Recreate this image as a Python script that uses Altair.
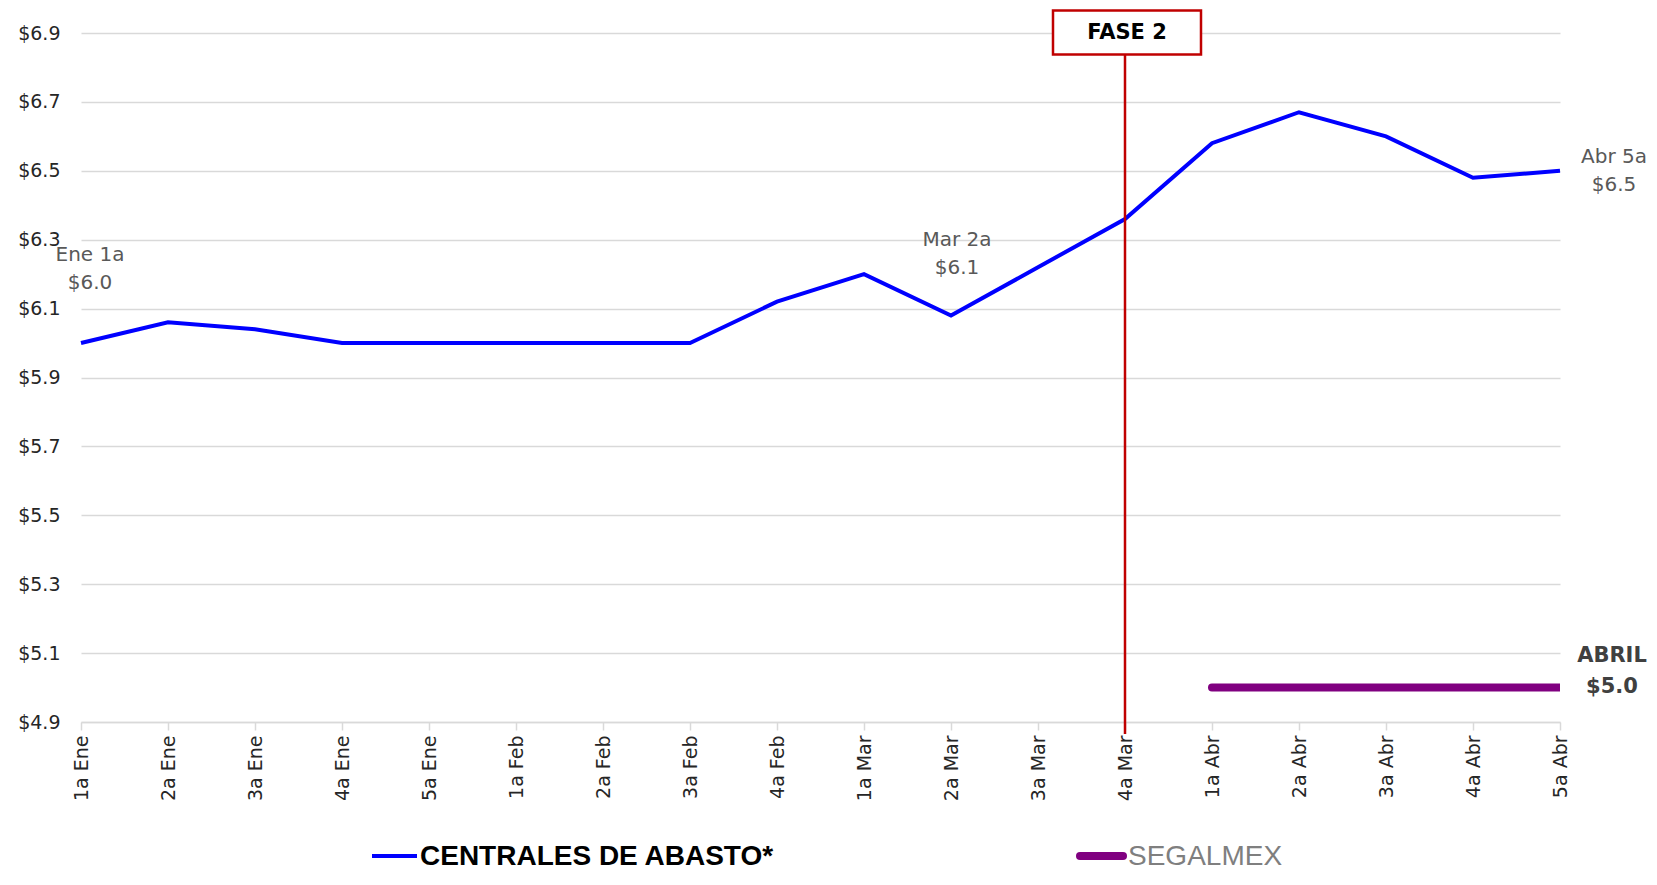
import altair as alt
import pandas as pd

# ---------------- data ----------------
weeks = ["1a Ene", "2a Ene", "3a Ene", "4a Ene", "5a Ene", "1a Feb", "2a Feb", "3a Feb",
         "4a Feb", "1a Mar", "2a Mar", "3a Mar", "4a Mar", "1a Abr", "2a Abr", "3a Abr",
         "4a Abr", "5a Abr"]
centrales = [6.00, 6.06, 6.04, 6.00, 6.00, 6.00, 6.00, 6.00,
             6.12, 6.20, 6.08, 6.22, 6.36, 6.58, 6.67, 6.60, 6.48, 6.50]
segalmex_weeks = ["1a Abr", "2a Abr", "3a Abr", "4a Abr", "5a Abr"]
segalmex = [5.0, 5.0, 5.0, 5.0, 5.0]
y_ticks = [4.9, 5.1, 5.3, 5.5, 5.7, 5.9, 6.1, 6.3, 6.5, 6.7, 6.9]
fase_week = "4a Mar"

df_c = pd.DataFrame({"cat": weeks, "value": centrales})
df_s = pd.DataFrame({"cat": segalmex_weeks, "value": segalmex})
df_f = pd.DataFrame({"cat": [fase_week], "label": ["FASE 2"]})

FONT = "DejaVu Sans"
LEG_FONT = "Liberation Sans"

xscale = alt.Scale(type="point", domain=weeks, padding=0)
yscale = alt.Scale(domain=[4.9, 6.9], nice=False, zero=False)
xaxis = alt.Axis(title=None, labelAngle=-90, labelFont=FONT, labelFontSize=19,
                 labelColor="#262626", domainColor="#d9d9d9", domainWidth=1.5,
                 tickColor="#d9d9d9", tickWidth=1.5, tickSize=8, labelPadding=5,
                 grid=False)
yaxis = alt.Axis(title=None, values=y_ticks,
                 labelExpr="'$' + format(datum.value, '.1f')",
                 labelFont=FONT, labelFontSize=19, labelColor="#262626",
                 domain=False, ticks=False, labelPadding=21,
                 grid=True, gridColor="#d9d9d9", gridWidth=1.3)

X = alt.X("cat:O", scale=xscale, axis=xaxis)
Y = alt.Y("value:Q", scale=yscale, axis=yaxis)

line_c = alt.Chart(df_c).mark_line(color="#0000ff", strokeWidth=4).encode(x=X, y=Y)
line_s = alt.Chart(df_s).mark_line(color="#800080", strokeWidth=8, strokeCap="round",
                                   clip=True).encode(x=X, y=Y)

rule_f = alt.Chart(df_f).mark_rule(color="#c00000", strokeWidth=2.5).encode(
    x=X, y=alt.value(21), y2=alt.value(701))
box_f = alt.Chart(df_f).mark_point(
    shape="M-0.973,-0.2973L1.027,-0.2973L1.027,0.2973L-0.973,0.2973Z", size=21904,
    fill="white", stroke="#c00000", strokeWidth=2.5, opacity=1, fillOpacity=1
).encode(x=X, y=alt.value(-0.5))
text_f = alt.Chart(df_f).mark_text(font=FONT, fontSize=21, fontWeight="bold",
                                   color="black", baseline="middle", dx=2).encode(
    x=X, y=alt.value(-0.5), text="label:N")


def note(cat, value, txt, dx, dy, bold=False, size=20, color="#595959"):
    d = pd.DataFrame({"cat": [cat], "value": [value], "t": [txt]})
    return alt.Chart(d).mark_text(font=FONT, fontSize=size, color=color,
                                  fontWeight="bold" if bold else "normal",
                                  baseline="middle", dx=dx, dy=dy).encode(
        x=X, y=Y, text="t:N")


notes = [
    note(weeks[0], centrales[0], "Ene 1a", 9, -88.5),
    note(weeks[0], centrales[0], "$6.0", 9, -60.5),
    note(weeks[10], centrales[10], "Mar 2a", 6, -75),
    note(weeks[10], centrales[10], "$6.1", 6, -47),
    note(weeks[-1], centrales[-1], "Abr 5a", 54, -14),
    note(weeks[-1], centrales[-1], "$6.5", 54, 14),
    note(segalmex_weeks[-1], segalmex[-1], "ABRIL", 52, -32, bold=True, size=21, color="#404040"),
    note(segalmex_weeks[-1], segalmex[-1], "$5.0", 52, -1, bold=True, size=21, color="#404040"),
]

# ---------------- manual legend ----------------
leg_df = pd.DataFrame({"k": [0]})
leg_blue = alt.Chart(leg_df).mark_rule(color="#0000ff", strokeWidth=4).encode(
    x=alt.value(291), x2=alt.value(336), y=alt.value(823))
leg_blue_t = alt.Chart(leg_df).mark_text(font=LEG_FONT, fontSize=28, fontWeight="bold",
                                         color="black", align="left",
                                         baseline="alphabetic").encode(
    x=alt.value(339), y=alt.value(832), text=alt.value("CENTRALES DE ABASTO*"))
leg_purple = alt.Chart(leg_df).mark_rule(color="#800080", strokeWidth=8,
                                         strokeCap="round").encode(
    x=alt.value(999), x2=alt.value(1042), y=alt.value(823))
leg_purple_t = alt.Chart(leg_df).mark_text(font=LEG_FONT, fontSize=28,
                                           color="#7f7f7f", align="left",
                                           baseline="alphabetic").encode(
    x=alt.value(1047), y=alt.value(832), text=alt.value("SEGALMEX"))

chart = alt.layer(
    line_c, line_s, rule_f, box_f, text_f, *notes,
    leg_blue, leg_blue_t, leg_purple, leg_purple_t
).properties(
    width=1479, height=689,
    padding={"left": 73, "top": 25, "right": 89, "bottom": 149},
    autosize=alt.AutoSizeParams(type="none"),
    background="white",
).configure_view(stroke=None)

chart.save("out.html", embed_options={"renderer": "svg", "actions": False})
